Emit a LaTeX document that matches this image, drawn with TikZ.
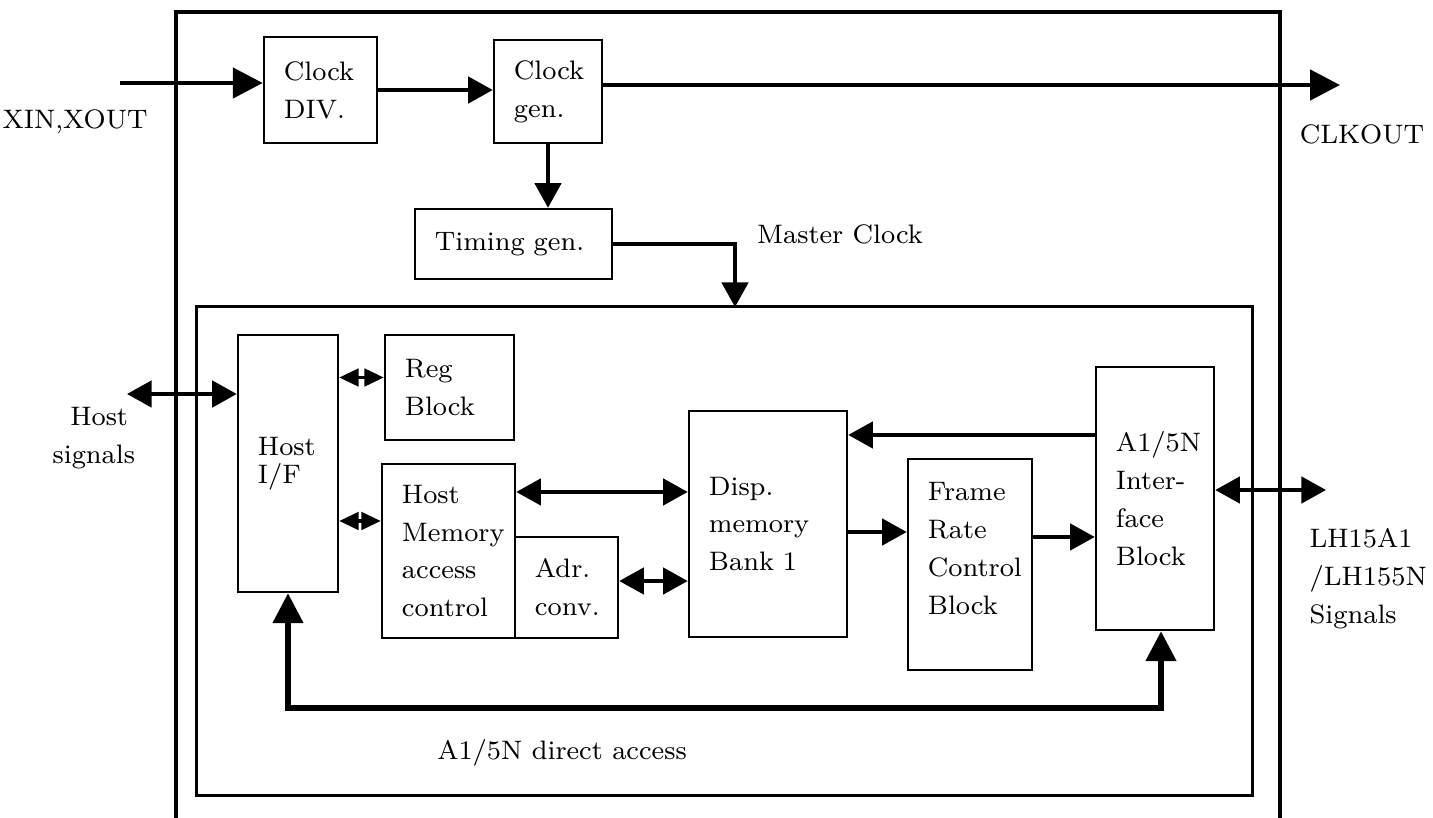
\documentclass[tikz,border=0pt]{standalone}
\usetikzlibrary{arrows.meta}

\tikzset{
    blk/.style={draw, line width=0.7pt, rectangle, align=left, inner xsep=0.2cm, inner ysep=0pt},
    lbl/.style={align=left, inner sep=0pt},
    bigarr/.style={line width=1.4pt, -{Triangle[length=8.5pt,width=8.5pt]}},
    arr/.style={line width=1pt, -{Triangle[length=7pt,width=7.5pt]}},
    darr/.style={line width=1pt, {Triangle[length=7pt,width=7.5pt]}-{Triangle[length=7pt,width=7.5pt]}},
    sdarr/.style={line width=0.9pt, {Triangle[length=5.5pt,width=5pt]}-{Triangle[length=5.5pt,width=5pt]}},
    bus/.style={line width=1.5pt, {Triangle[length=8.5pt,width=8.5pt]}-{Triangle[length=8.5pt,width=8.5pt]}}
}

\begin{document}
\begin{tikzpicture}[x=0.01cm, y=-0.01cm, font=\fontsize{7.6}{10.8}\selectfont]

    \useasboundingbox (0,0) rectangle (1433,818);

    % chip outline, open at the bottom
    \draw[line width=0.9pt] (176,818) |- (1280,12) -- (1280,818);
    \node[draw, line width=0.9pt, minimum width=10.55cm, minimum height=4.88cm] (core) at (724.5,551) {};

    \node[blk, text width=0.73cm, minimum height=1.06cm] (clkdiv) at (320.5,90) {Clock\\DIV.};
    \node[blk, text width=0.68cm, minimum height=1.03cm] (clkgen) at (548,91.5) {Clock\\gen.};
    \node[blk, text width=1.57cm, minimum height=0.70cm] (timing) at (513.5,244) {Timing gen.};

    \node[blk, text width=0.60cm, minimum height=2.57cm] (hostif) at (288,463.5) {Host\\[-3pt]I/F};
    \node[blk, text width=0.89cm, minimum height=1.05cm] (reg) at (449.5,387.5) {Reg\\Block};
    \node[blk, text width=0.93cm, minimum height=1.74cm] (hostmem) at (448.5,551) {Host\\Memory\\access\\control};
    \node[blk, text width=0.63cm, minimum height=1.01cm] (adr) at (566.5,587.5) {Adr.\\conv.};
    \node[blk, text width=1.18cm, minimum height=2.26cm] (disp) at (768,524) {Disp.\\memory\\Bank 1};
    \node[blk, text width=0.84cm, text depth=41.5pt, minimum height=2.11cm] (frc) at (970,564.5) {Frame\\Rate\\Control\\Block};
    \node[blk, text width=0.78cm, minimum height=2.63cm] (a15n) at (1155,498.5) {A1/5N\\Inter-\\face\\Block};

    \node[lbl] (xinlbl) at (75,122) {XIN,XOUT};
    \node[lbl] (clkoutlbl) at (1362,134) {CLKOUT};
    \node[lbl] (mclklbl) at (840,234) {Master Clock};
    \node[lbl, anchor=west] (hostlbl) at (52,438) {\hspace*{5pt}Host\\signals};
    \node[lbl, anchor=west] (lcdlbl) at (1309,579) {LH15A1\\/LH155N\\Signals};
    \node[lbl] (buslbl) at (562,753) {A1/5N direct access};

    \coordinate (xin) at (120,83);
    \coordinate (clkout) at (1340,85);
    \coordinate (mclk) at (735,307);
    \coordinate (hsig) at (127,394);
    \coordinate (lcd) at (1326,490);
    \coordinate (busl) at (288,708);

    \draw[bigarr] (xin) -- (xin -| clkdiv.west);
    \draw[arr] (clkdiv.east) -- (clkdiv.east -| clkgen.west);
    \draw[bigarr] (clkgen.east |- clkout) -- (clkout);
    \draw[arr] (clkgen.south) -- (clkgen.south |- timing.north);
    \draw[arr] (timing.east) -| (mclk);

    \draw[darr] (hsig) -- (hsig -| hostif.west);
    \draw[sdarr] ([yshift=0.1cm]reg.west) -- ([yshift=0.1cm]reg.west -| hostif.east);
    \draw[sdarr] ([yshift=0.3cm]hostmem.west) -- ([yshift=0.3cm]hostmem.west -| hostif.east);
    \draw[darr] ([yshift=0.59cm]hostmem.east) -- ([yshift=0.59cm]hostmem.east -| disp.west);
    \draw[darr] ([yshift=0.065cm]adr.east) -- ([yshift=0.065cm]adr.east -| disp.west);
    \draw[arr] ([yshift=-0.08cm]disp.east) -- ([yshift=-0.08cm]disp.east -| frc.west);
    \draw[arr] ([yshift=0.275cm]frc.east) -- ([yshift=0.275cm]frc.east -| a15n.west);
    \draw[arr] ([yshift=0.635cm]a15n.west) -- ([yshift=0.635cm]a15n.west -| disp.east);
    \draw[darr] (lcd -| a15n.east) -- (lcd);

    \draw[bus] (hostif.south) -- (busl) -| ([xshift=0.06cm]a15n.south);

\end{tikzpicture}
\end{document}
